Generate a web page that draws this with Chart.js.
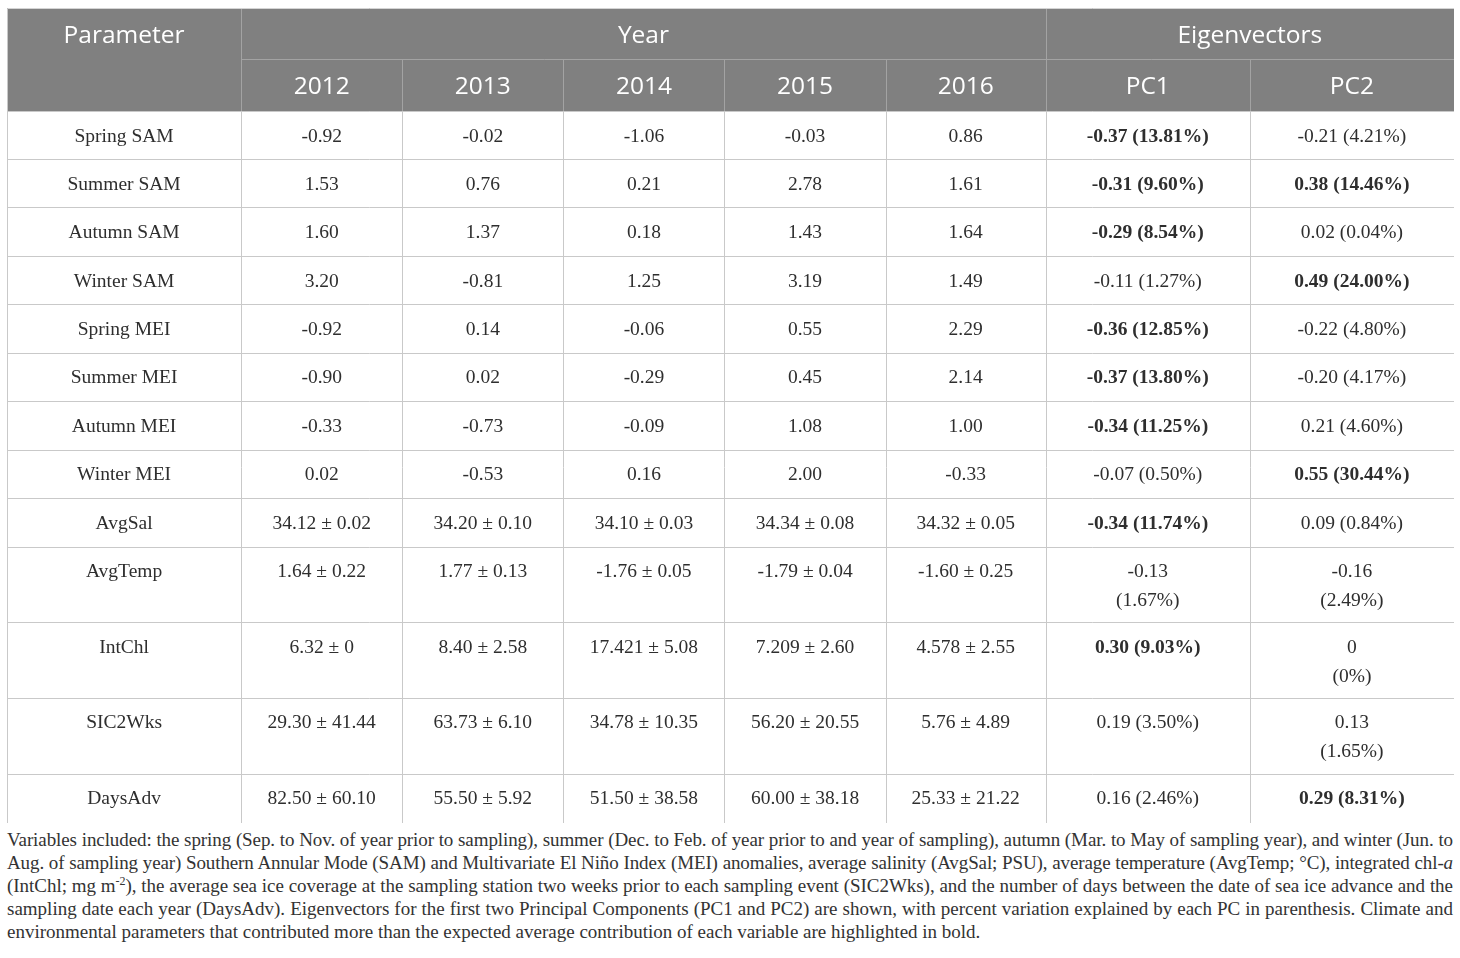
<!DOCTYPE html>
<html>
<head>
<meta charset="utf-8">
<script src="https://cdn.jsdelivr.net/npm/chart.js@4.4.1/dist/chart.umd.min.js"></script>
<style>
  html, body { margin: 0; padding: 0; background: #ffffff; }
  #wrap { position: absolute; left: 7px; top: 8px; width: 1447px; height: 815px; }
  #caption {
    position: absolute; left: 7px; top: 828px; width: 1446px;
    font-family: "Liberation Serif", "DejaVu Serif", serif; font-size: 19px;
    line-height: 23px; color: #333333;
  }
  #caption div { text-align: justify; text-align-last: justify; white-space: nowrap; }
  #caption div.last { text-align-last: left; }
  #caption sup { font-size: 12px; line-height: 0; vertical-align: 7px; }
</style>
</head>
<body>
<div id="wrap"><canvas id="table"></canvas></div>
<div id="caption">
  <div>Variables included: the spring (Sep. to Nov. of year prior to sampling), summer (Dec. to Feb. of year prior to and year of sampling), autumn (Mar. to May of sampling year), and winter (Jun. to</div>
  <div>Aug. of sampling year) Southern Annular Mode (SAM) and Multivariate El Niño Index (MEI) anomalies, average salinity (AvgSal; PSU), average temperature (AvgTemp; °C), integrated chl-<i>a</i></div>
  <div>(IntChl; mg m<sup>-2</sup>), the average sea ice coverage at the sampling station two weeks prior to each sampling event (SIC2Wks), and the number of days between the date of sea ice advance and the</div>
  <div>sampling date each year (DaysAdv). Eigenvectors for the first two Principal Components (PC1 and PC2) are shown, with percent variation explained by each PC in parenthesis. Climate and</div>
  <div class="last">environmental parameters that contributed more than the expected average contribution of each variable are highlighted in bold.</div>
</div>
<script>
// table content
const parameters = ['Spring SAM', 'Summer SAM', 'Autumn SAM', 'Winter SAM', 'Spring MEI', 'Summer MEI',
  'Autumn MEI', 'Winter MEI', 'AvgSal', 'AvgTemp', 'IntChl', 'SIC2Wks', 'DaysAdv'];
const years = ['2012', '2013', '2014', '2015', '2016'];
const v2012 = ['-0.92', '1.53', '1.60', '3.20', '-0.92', '-0.90', '-0.33', '0.02',
  '34.12 ± 0.02', '1.64 ± 0.22', '6.32 ± 0', '29.30 ± 41.44', '82.50 ± 60.10'];
const v2013 = ['-0.02', '0.76', '1.37', '-0.81', '0.14', '0.02', '-0.73', '-0.53',
  '34.20 ± 0.10', '1.77 ± 0.13', '8.40 ± 2.58', '63.73 ± 6.10', '55.50 ± 5.92'];
const v2014 = ['-1.06', '0.21', '0.18', '1.25', '-0.06', '-0.29', '-0.09', '0.16',
  '34.10 ± 0.03', '-1.76 ± 0.05', '17.421 ± 5.08', '34.78 ± 10.35', '51.50 ± 38.58'];
const v2015 = ['-0.03', '2.78', '1.43', '3.19', '0.55', '0.45', '1.08', '2.00',
  '34.34 ± 0.08', '-1.79 ± 0.04', '7.209 ± 2.60', '56.20 ± 20.55', '60.00 ± 38.18'];
const v2016 = ['0.86', '1.61', '1.64', '1.49', '2.29', '2.14', '1.00', '-0.33',
  '34.32 ± 0.05', '-1.60 ± 0.25', '4.578 ± 2.55', '5.76 ± 4.89', '25.33 ± 21.22'];
const pc1 = ['-0.37 (13.81%)', '-0.31 (9.60%)', '-0.29 (8.54%)', '-0.11 (1.27%)', '-0.36 (12.85%)',
  '-0.37 (13.80%)', '-0.34 (11.25%)', '-0.07 (0.50%)', '-0.34 (11.74%)', '-0.13\n(1.67%)',
  '0.30 (9.03%)', '0.19 (3.50%)', '0.16 (2.46%)'];
const pc2 = ['-0.21 (4.21%)', '0.38 (14.46%)', '0.02 (0.04%)', '0.49 (24.00%)', '-0.22 (4.80%)',
  '-0.20 (4.17%)', '0.21 (4.60%)', '0.55 (30.44%)', '0.09 (0.84%)', '-0.16\n(2.49%)',
  '0\n(0%)', '0.13\n(1.65%)', '0.29 (8.31%)'];
const pc1Bold = [1, 1, 1, 0, 1, 1, 1, 0, 1, 0, 1, 0, 0];
const pc2Bold = [0, 1, 0, 1, 0, 0, 0, 1, 0, 0, 0, 0, 1];

// layout (not data)
const colWidths = [234, 161, 161, 161, 161, 160, 204, 204];
const rowHeights = [51, 52, 48, 48, 49, 48, 48.5, 48.5, 48, 48.5, 48.5, 75.5, 75.5, 76, 49];
const HEADER_ROWS = 2;

const colEdges = colWidths.reduce((a, w) => { a.push(a[a.length - 1] + w); return a; }, [0]);
const rowEdges = rowHeights.reduce((a, h) => { a.push(a[a.length - 1] + h); return a; }, [0]);

const bodyFont = '"Liberation Serif", "DejaVu Serif", serif';
const headFont = '"Open Sans", "Noto Sans", sans-serif';

// squeeze caption lines that are wider than the table
document.querySelectorAll('#caption div').forEach(div => {
  const full = div.parentNode.clientWidth;
  div.style.display = 'inline-block';
  const w = div.getBoundingClientRect().width;
  div.style.display = '';
  if (w > full) {
    const chars = div.textContent.length;
    div.style.letterSpacing = ((full - w) / chars - 0.02) + 'px';
  }
});

const tablePlugin = {
  id: 'tableCells',
  afterDraw(chart) {
    const { ctx } = chart;
    const x = chart.scales.x, y = chart.scales.y;
    const px = v => x.getPixelForValue(v);
    const py = v => y.getPixelForValue(v);
    const L = px(0), R = px(colEdges[colEdges.length - 1]);
    const T = py(0), HB = py(rowEdges[HEADER_ROWS]), B = py(rowEdges[rowEdges.length - 1]);

    ctx.save();
    // header background
    ctx.fillStyle = '#808080';
    ctx.fillRect(L, T, R - L, HB - T);

    // header lines
    ctx.strokeStyle = '#a3a3a3';
    ctx.lineWidth = 1;
    const line = (x1, y1, x2, y2) => {
      ctx.beginPath(); ctx.moveTo(Math.round(x1) + 0.5, Math.round(y1) + 0.5);
      ctx.lineTo(Math.round(x2) + 0.5, Math.round(y2) + 0.5); ctx.stroke();
    };
    line(px(colEdges[1]), py(rowEdges[1]), R, py(rowEdges[1]));
    line(px(colEdges[1]), T, px(colEdges[1]), HB);
    line(px(colEdges[6]), T, px(colEdges[6]), HB);
    for (let c = 2; c < colEdges.length - 1; c++) {
      if (c === 6) continue;
      line(px(colEdges[c]), py(rowEdges[1]), px(colEdges[c]), HB);
    }

    // body grid
    ctx.strokeStyle = '#c9c9c9';
    for (let r = HEADER_ROWS; r < rowEdges.length; r++) line(L, py(rowEdges[r]), R, py(rowEdges[r]));
    for (let c = 0; c < colEdges.length; c++) {
      const top = (c === 0 || c === colEdges.length - 1) ? T : HB;
      line(px(colEdges[c]), top, px(colEdges[c]), B);
    }
    ctx.strokeStyle = '#d4d4d4';
    line(L, T, R, T);

    // header text
    ctx.fillStyle = '#ffffff';
    ctx.textAlign = 'center';
    ctx.textBaseline = 'alphabetic';
    ctx.font = '24.5px ' + headFont;
    const midX = (a, b) => (px(colEdges[a]) + px(colEdges[b])) / 2;
    const base = r => py(rowEdges[r]) + 35;
    ctx.fillText('Parameter', midX(0, 1), base(0));
    ctx.fillText('Year', midX(1, 6), base(0));
    ctx.fillText('Eigenvectors', midX(6, 8), base(0));
    years.forEach((yr, i) => ctx.fillText(yr, midX(i + 1, i + 2), base(1)));
    ctx.fillText('PC1', midX(6, 7), base(1));
    ctx.fillText('PC2', midX(7, 8), base(1));

    // body text
    ctx.fillStyle = '#2e2e2e';
    const cols = [parameters, v2012, v2013, v2014, v2015, v2016, pc1, pc2];
    parameters.forEach((p, i) => {
      const r = i + HEADER_ROWS;
      const top = py(rowEdges[r]);
      cols.forEach((col, c) => {
        const bold = (c === 6 && pc1Bold[i]) || (c === 7 && pc2Bold[i]);
        ctx.font = (bold ? 'bold ' : '') + '19.5px ' + bodyFont;
        String(col[i]).split('\n').forEach((txt, k) => {
          ctx.fillText(txt, midX(c, c + 1), top + 30.5 + k * 29);
        });
      });
    });
    ctx.restore();
  }
};

new Chart(document.getElementById('table'), {
  type: 'scatter',
  data: { datasets: [{ data: [] }] },
  options: {
    responsive: true,
    maintainAspectRatio: false,
    animation: false,
    events: [],
    layout: { padding: 0 },
    plugins: { legend: { display: false }, tooltip: { enabled: false } },
    scales: {
      x: { type: 'linear', display: false, min: 0, max: colEdges[colEdges.length - 1] },
      y: { type: 'linear', display: false, reverse: true, min: 0, max: rowEdges[rowEdges.length - 1] }
    }
  },
  plugins: [tablePlugin]
});
</script>
</body>
</html>
